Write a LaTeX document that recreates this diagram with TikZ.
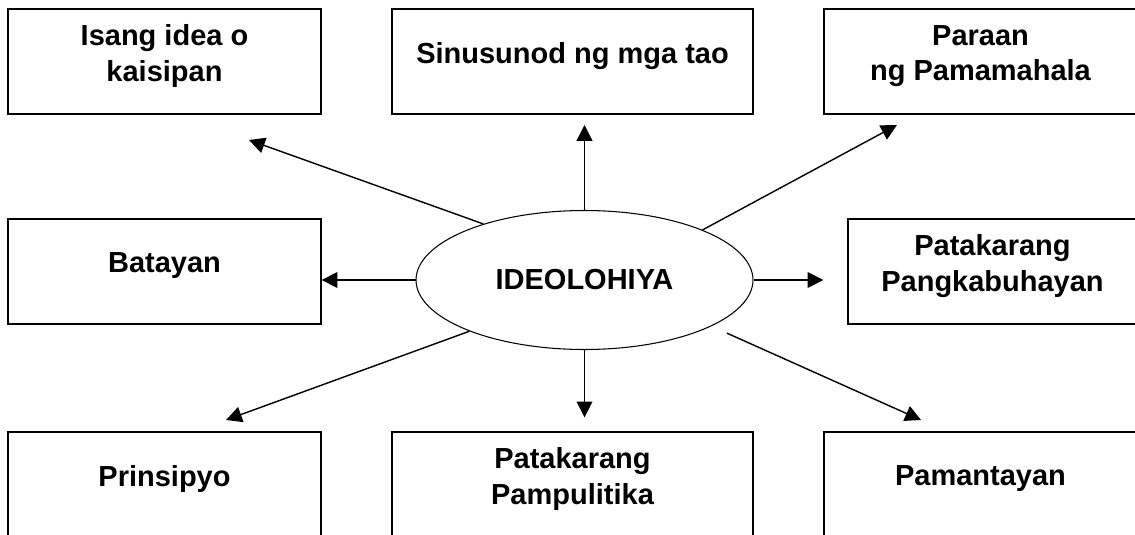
\documentclass[tikz,border=0pt]{standalone}
\usepackage{fontspec}
\setmainfont{Liberation Sans}
\usepackage{tikz}
\usetikzlibrary{shapes, arrows.meta, positioning}
\tikzstyle{box} = [rectangle, draw, line width=0.8pt, minimum height=2.1cm, minimum width=6.26cm, inner sep=0pt]
\tikzstyle{wbox} = [box, minimum width=7.22cm]
\tikzstyle{nbox} = [box, minimum width=5.78cm]
\tikzstyle{txt} = [align=center, font=\bfseries\fontsize{16.5}{20}\selectfont, yshift=0.11cm]
\tikzstyle{oval} = [ellipse, draw, line width=0.6pt, minimum width=6.74cm, minimum height=2.78cm, inner sep=0pt, font=\bfseries\fontsize{16.5}{20}\selectfont]
\tikzstyle{line} = [draw, line width=0.8pt, -{Triangle[length=9pt, width=9pt]}]

\begin{document}
\begin{tikzpicture}[x=0.02cm, y=-0.02cm]
	\useasboundingbox (0,0) rectangle (1135,534);

	\node [box, label={[txt]center:{Isang idea o\\kaisipan}}] (idea) at (164.5, 61.5) {};
	\node [wbox, label={[txt]center:{Sinusunod ng mga tao}}] (tao) at (572.5, 61.5) {};
	\node [box, label={[txt]center:{Paraan\\ng Pamamahala}}] (pamahala) at (980.5, 61.5) {};
	\node [box, label={[txt]center:{Batayan}}] (batayan) at (164.5, 271.5) {};
	\node [nbox, label={[txt]center:{Patakarang\\Pangkabuhayan}}] (kabuhayan) at (992.5, 271.5) {};
	\node [box, label={[txt]center:{Prinsipyo}}] (prinsipyo) at (164.5, 484.5) {};
	\node [wbox, label={[txt]center:{Patakarang\\Pampulitika}}] (pulitika) at (572.5, 484.5) {};
	\node [box, label={[txt]center:{Pamantayan}}] (pamantayan) at (980.5, 484.5) {};

	\node [oval] (ideo) at (584.5, 280) {IDEOLOHIYA};

	\coordinate (t1) at (249, 140);
	\coordinate (t2) at (584.5, 125);
	\coordinate (t3) at (897, 125);
	\coordinate (t6) at (226, 420);
	\coordinate (t8) at (921, 420);

	\path [line] (ideo.151) -- (t1);
	\path [line] (ideo.north) -- (t2);
	\path [line] (ideo.23) -- (t3);
	\path [line] (ideo.west) -- (ideo.west -| batayan.east);
	\path [line, shorten >=0.48cm] (ideo.east) -- (ideo.east -| kabuhayan.west);
	\path [line] (ideo.204) -- (t6);
	\path [line, shorten >=0.28cm] (ideo.south) -- (ideo.south |- pulitika.north);
	\path [line, shorten <=0.34cm] (ideo.340) -- (t8);
\end{tikzpicture}
\end{document}
